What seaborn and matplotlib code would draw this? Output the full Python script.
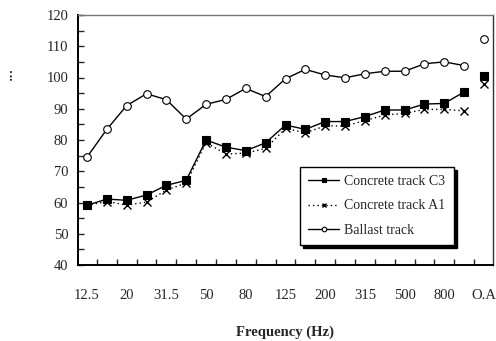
import matplotlib
matplotlib.use("Agg")
import matplotlib.pyplot as plt
import seaborn as sns
import numpy as np
import pandas as pd

categories = ["12.5", "16", "20", "25", "31.5", "40", "50", "63", "80", "100",
              "125", "160", "200", "250", "315", "400", "500", "630", "800", "1000", "O.A"]
c3_values = [59.1, 61.1, 60.7, 62.4, 65.5, 67.1, 80.0, 77.7, 76.6, 79.1,
             84.8, 83.4, 85.9, 85.9, 87.5, 89.6, 89.6, 91.5, 91.7, 95.4, 100.5]
a1_values = [59.1, 60.3, 59.2, 60.1, 64.0, 66.2, 79.2, 75.5, 75.8, 77.3,
             83.7, 82.3, 84.5, 84.5, 86.2, 88.0, 88.5, 89.8, 89.8, 89.3, 97.8]
ballast_values = [74.5, 83.4, 91.0, 94.8, 92.9, 86.7, 91.4, 93.0, 96.5, 93.9,
                  99.6, 102.6, 100.8, 99.9, 101.2, 102.0, 102.0, 104.4, 105.0, 103.8, 112.4]
series_names = ["Concrete track C3", "Concrete track A1", "Ballast track"]
shown_labels = ["12.5", "20", "31.5", "50", "80", "125", "200", "315", "500", "800", "O.A"]

sns.set_style("ticks")
plt.rcParams["font.family"] = ["Liberation Serif", "DejaVu Serif"]

fig = plt.figure(figsize=(4.96, 3.41), dpi=100)
ax = fig.add_axes([78/496, 1-265/341, (493-78)/496, 250/341])

n = len(categories)
idx = np.arange(n)
band = idx[:-1]
oa = idx[-1:]

styles = [
    dict(marker="s", ls="-", mfc="black", mec="black", ms=5.5),
    dict(marker="x", ls=(0, (1, 2.2)), mfc="black", mec="black", ms=5.5, mew=1.0),
    dict(marker="o", ls="-", mfc="white", mec="black", ms=5.5, mew=0.8),
]
series = [c3_values, a1_values, ballast_values]

for name, vals, st in zip(series_names, series, styles):
    vals = np.asarray(vals)
    df = pd.DataFrame({"x": band, "y": vals[:-1]})
    sns.lineplot(data=df, x="x", y="y", ax=ax, color="black", lw=1.0,
                 linestyle=st["ls"], marker=st["marker"], markersize=st["ms"],
                 markerfacecolor=st["mfc"], markeredgecolor=st["mec"],
                 markeredgewidth=st.get("mew", 0.8), label=name)
    ax.plot(oa, vals[-1:], ls="none", marker=st["marker"], ms=st["ms"],
            mfc=st["mfc"], mec=st["mec"], mew=st.get("mew", 0.8), color="black")

ax.set_xlim(-0.45, n - 0.55)
ax.set_ylim(40, 120)
ax.set_yticks(np.arange(40, 121, 10))
ax.set_yticks(np.arange(45, 120, 10), minor=True)
ax.set_xticks([categories.index(l) for l in shown_labels])
ax.set_xticklabels(shown_labels)
ax.set_xticks(np.arange(0.5, n - 1, 1.0), minor=True)

ax.tick_params(axis="x", which="major", length=0, pad=17, labelsize=10.5)
ax.tick_params(axis="x", which="minor", direction="in", length=4, width=1)
ax.tick_params(axis="y", which="major", direction="in", length=4, width=1, pad=7, labelsize=10.5)
ax.tick_params(axis="y", which="minor", direction="in", length=4, width=1)

for s in ["left", "bottom"]:
    ax.spines[s].set_linewidth(1.4)
    ax.spines[s].set_color("black")
ax.spines["top"].set_color("#777777")
ax.spines["top"].set_linewidth(1.0)
ax.spines["right"].set_color("#333333")
ax.spines["right"].set_linewidth(1.0)
for s in ax.spines.values():
    s.set_visible(True)

ax.set_xlabel("Frequency (Hz)", fontweight="bold", fontsize=10.5, labelpad=17)
ax.set_ylabel("...", fontsize=13)
ax.yaxis.set_label_coords((16 - 78) / 415, (265 - 73) / 250)

leg = ax.legend(loc="upper left", bbox_to_anchor=((300-78)/415, (265-167)/250),
                borderaxespad=0, frameon=True, fancybox=False,
                shadow={"color": "black", "alpha": 1.0, "ox": 2, "oy": -2},
                fontsize=10, handlelength=2.2, markerscale=0.6,
                labelspacing=0.8, borderpad=0.6, handletextpad=0.4)
leg.get_frame().set_edgecolor("black")
leg.get_frame().set_linewidth(1.0)
leg.get_frame().set_alpha(1)

fig.savefig("out.png", dpi=100)
